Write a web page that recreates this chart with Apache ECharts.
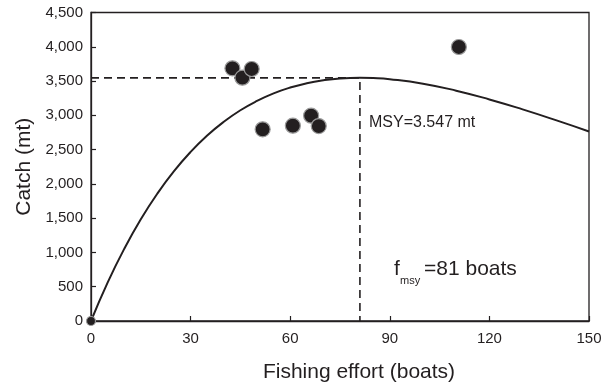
<!DOCTYPE html>
<html>
<head>
<meta charset="utf-8">
<script src="https://cdn.jsdelivr.net/npm/echarts@6/dist/echarts.min.js"></script>
<style>html,body{margin:0;padding:0;background:#fff}#c{width:612px;height:388px}</style>
</head>
<body>
<div id="c"></div>
<script>
// Observed data points (effort in boats, catch in mt)
const effortObs = [0, 42.6, 45.6, 48.4, 51.7, 60.8, 66.3, 68.6, 110.8];
const catchObs  = [0, 3686, 3549, 3676, 2796, 2849, 2995, 2844, 3997];

// Fitted curve
const curveEffort = [0, 5, 10, 15, 20, 25, 30, 35, 40, 45, 50, 55, 60, 65, 70, 75, 81, 85, 90, 100, 110, 120, 130, 140, 150];
const curveCatch  = [0, 560, 1052, 1484, 1860, 2186, 2466, 2705, 2906, 3074, 3210, 3320, 3405, 3468, 3511, 3537, 3547, 3543, 3527, 3462, 3360, 3232, 3087, 2930, 2765];

// MSY reference
const fmsy = 81;
const msy = 3547;

// Axis ticks
const xTicks = [0, 30, 60, 90, 120, 150];
const yTicks = [0, 500, 1000, 1500, 2000, 2500, 3000, 3500, 4000, 4500];

const txt = '#231f20';
const font = 'Liberation Sans, Arial, sans-serif';

const chart = echarts.init(document.getElementById('c'), null, {renderer: 'canvas'});
chart.setOption({
  animation: false,
  backgroundColor: '#fff',
  grid: {left: 91, right: 23, top: 12.5, bottom: 67, show: true, borderColor: txt, borderWidth: 1.3, backgroundColor: 'transparent'},
  xAxis: {
    type: 'value', min: xTicks[0], max: xTicks[xTicks.length - 1], interval: 30,
    name: 'Fishing effort (boats)', nameLocation: 'middle', nameGap: 41,
    nameTextStyle: {fontFamily: font, fontSize: 21, color: txt, padding: [0, 0, 0, 38]},
    axisLine: {lineStyle: {color: txt, width: 1.3}},
    axisTick: {inside: true, length: 5, lineStyle: {color: txt, width: 1.2}},
    axisLabel: {fontFamily: font, fontSize: 15, color: txt, margin: 10},
    splitLine: {show: false}
  },
  yAxis: {
    type: 'value', min: yTicks[0], max: yTicks[yTicks.length - 1], interval: 500,
    name: 'Catch (mt)', nameLocation: 'middle', nameGap: 56, nameRotate: 90,
    nameTextStyle: {fontFamily: font, fontSize: 21, color: txt},
    axisLine: {show: true, lineStyle: {color: txt, width: 1.3}},
    axisTick: {show: true, inside: true, length: 5, lineStyle: {color: txt, width: 1.2}},
    axisLabel: {fontFamily: font, fontSize: 15, color: txt, margin: 8,
      formatter: v => v.toLocaleString('en-US')},
    splitLine: {show: false}
  },
  series: [
    {
      type: 'line', data: [[0, msy], [fmsy, msy], [fmsy, 0]],
      symbol: 'none', silent: true,
      lineStyle: {color: txt, width: 1.6, type: [8, 5]}
    },
    {
      type: 'line', data: curveEffort.map((x, i) => [x, curveCatch[i]]),
      smooth: true, symbol: 'none',
      lineStyle: {color: txt, width: 2}
    },
    {
      type: 'scatter', data: effortObs.map((x, i) => [x, catchObs[i]]),
      clip: false,
      symbolSize: v => v[0] === 0 ? 9 : 15,
      itemStyle: {color: txt, opacity: 1, borderColor: '#9a9a9a', borderWidth: 1.2},
      z: 5
    }
  ],
  graphic: [
    {type: 'text', left: 369, top: 115,
      style: {text: 'MSY=3.547 mt', font: '16px ' + font, fill: txt}},
    {type: 'text', left: 394, top: 259,
      style: {text: 'f', font: '21px ' + font, fill: txt}},
    {type: 'text', left: 400, top: 275,
      style: {text: 'msy', font: '11px ' + font, fill: txt}},
    {type: 'text', left: 424, top: 259,
      style: {text: '=81 boats', font: '21px ' + font, fill: txt}}
  ]
});
</script>
</body>
</html>
